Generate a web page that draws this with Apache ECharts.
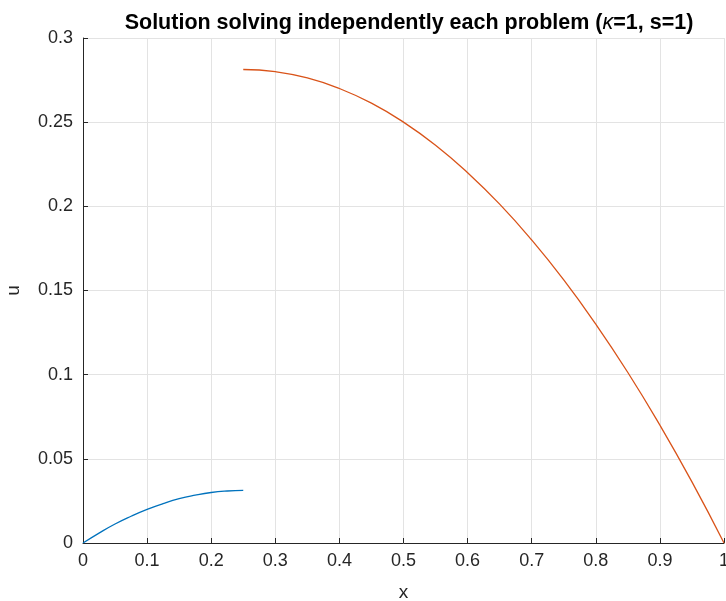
<!DOCTYPE html>
<html><head><meta charset="utf-8">
<script src="https://cdn.jsdelivr.net/npm/echarts@6/dist/echarts.min.js"></script>
<style>html,body{margin:0;padding:0;background:#fff}#c{width:726px;height:601px}</style>
</head><body><div id="c"></div>
<script>
const xTicks = [0,0.1,0.2,0.3,0.4,0.5,0.6,0.7,0.8,0.9,1];
const yTicks = [0,0.05,0.1,0.15,0.2,0.25,0.3];
const leftX = [0,0.025,0.05,0.075,0.1,0.125,0.15,0.175,0.2,0.225,0.25];
const leftU = [0,0.0059,0.0113,0.0159,0.02,0.0234,0.0263,0.0284,0.03,0.0309,0.0313];
const rightX = [0.25,0.3,0.35,0.4,0.45,0.5,0.55,0.6,0.65,0.7,0.75,0.8,0.85,0.9,0.95,1];
const rightU = [0.2813,0.28,0.2763,0.27,0.2613,0.25,0.2363,0.22,0.2013,0.18,0.1563,0.13,0.1013,0.07,0.0363,0];

const chart = echarts.init(document.getElementById('c'), null, {renderer:'canvas'});
const font = 'Liberation Sans, Arial, Helvetica, sans-serif';
const axisCol = '#262626';
chart.setOption({
  animation:false,
  title:{
    text:'{b|Solution solving independently each problem (}{i|κ}{b|=1, s=1)}',
    left:404, top:7, textAlign:'center',
    textStyle:{rich:{
      b:{fontFamily:font,fontWeight:'bold',fontSize:21.5,color:'#000'},
      i:{fontFamily:font,fontWeight:'normal',fontStyle:'italic',fontSize:21.5,color:'#000'}
    }}
  },
  grid:{left:83,right:2,top:38,bottom:58,containLabel:false,outerBoundsMode:'none'},
  xAxis:{
    type:'value',min:0,max:1,interval:0.1,
    name:'x',nameLocation:'middle',nameGap:40,
    nameTextStyle:{fontFamily:font,fontSize:19,color:axisCol},
    axisLine:{show:true,lineStyle:{color:axisCol,width:1}},
    axisTick:{show:true,inside:true,length:5,lineStyle:{color:axisCol}},
    axisLabel:{fontFamily:font,fontSize:18,color:axisCol,margin:9,
      formatter:v=>String(Math.round(v*10)/10)},
    splitLine:{show:true,lineStyle:{color:'#e3e3e3',width:1}}
  },
  yAxis:{
    type:'value',min:0,max:0.3,interval:0.05,
    name:'u',nameLocation:'middle',nameGap:60,nameRotate:90,
    nameTextStyle:{fontFamily:font,fontSize:19,color:axisCol},
    axisLine:{show:true,lineStyle:{color:axisCol,width:1}},
    axisTick:{show:true,inside:true,length:5,lineStyle:{color:axisCol}},
    axisLabel:{fontFamily:font,fontSize:18,color:axisCol,margin:10,
      formatter:v=>String(Math.round(v*100)/100)},
    splitLine:{show:true,lineStyle:{color:'#e3e3e3',width:1}}
  },
  series:[
    {type:'line',data:leftX.map((x,i)=>[x,leftU[i]]),smooth:true,showSymbol:false,
     lineStyle:{color:'#0072BD',width:1.3},itemStyle:{color:'#0072BD'}},
    {type:'line',data:rightX.map((x,i)=>[x,rightU[i]]),smooth:true,showSymbol:false,
     lineStyle:{color:'#D95319',width:1.3},itemStyle:{color:'#D95319'}}
  ]
});
</script></body></html>
